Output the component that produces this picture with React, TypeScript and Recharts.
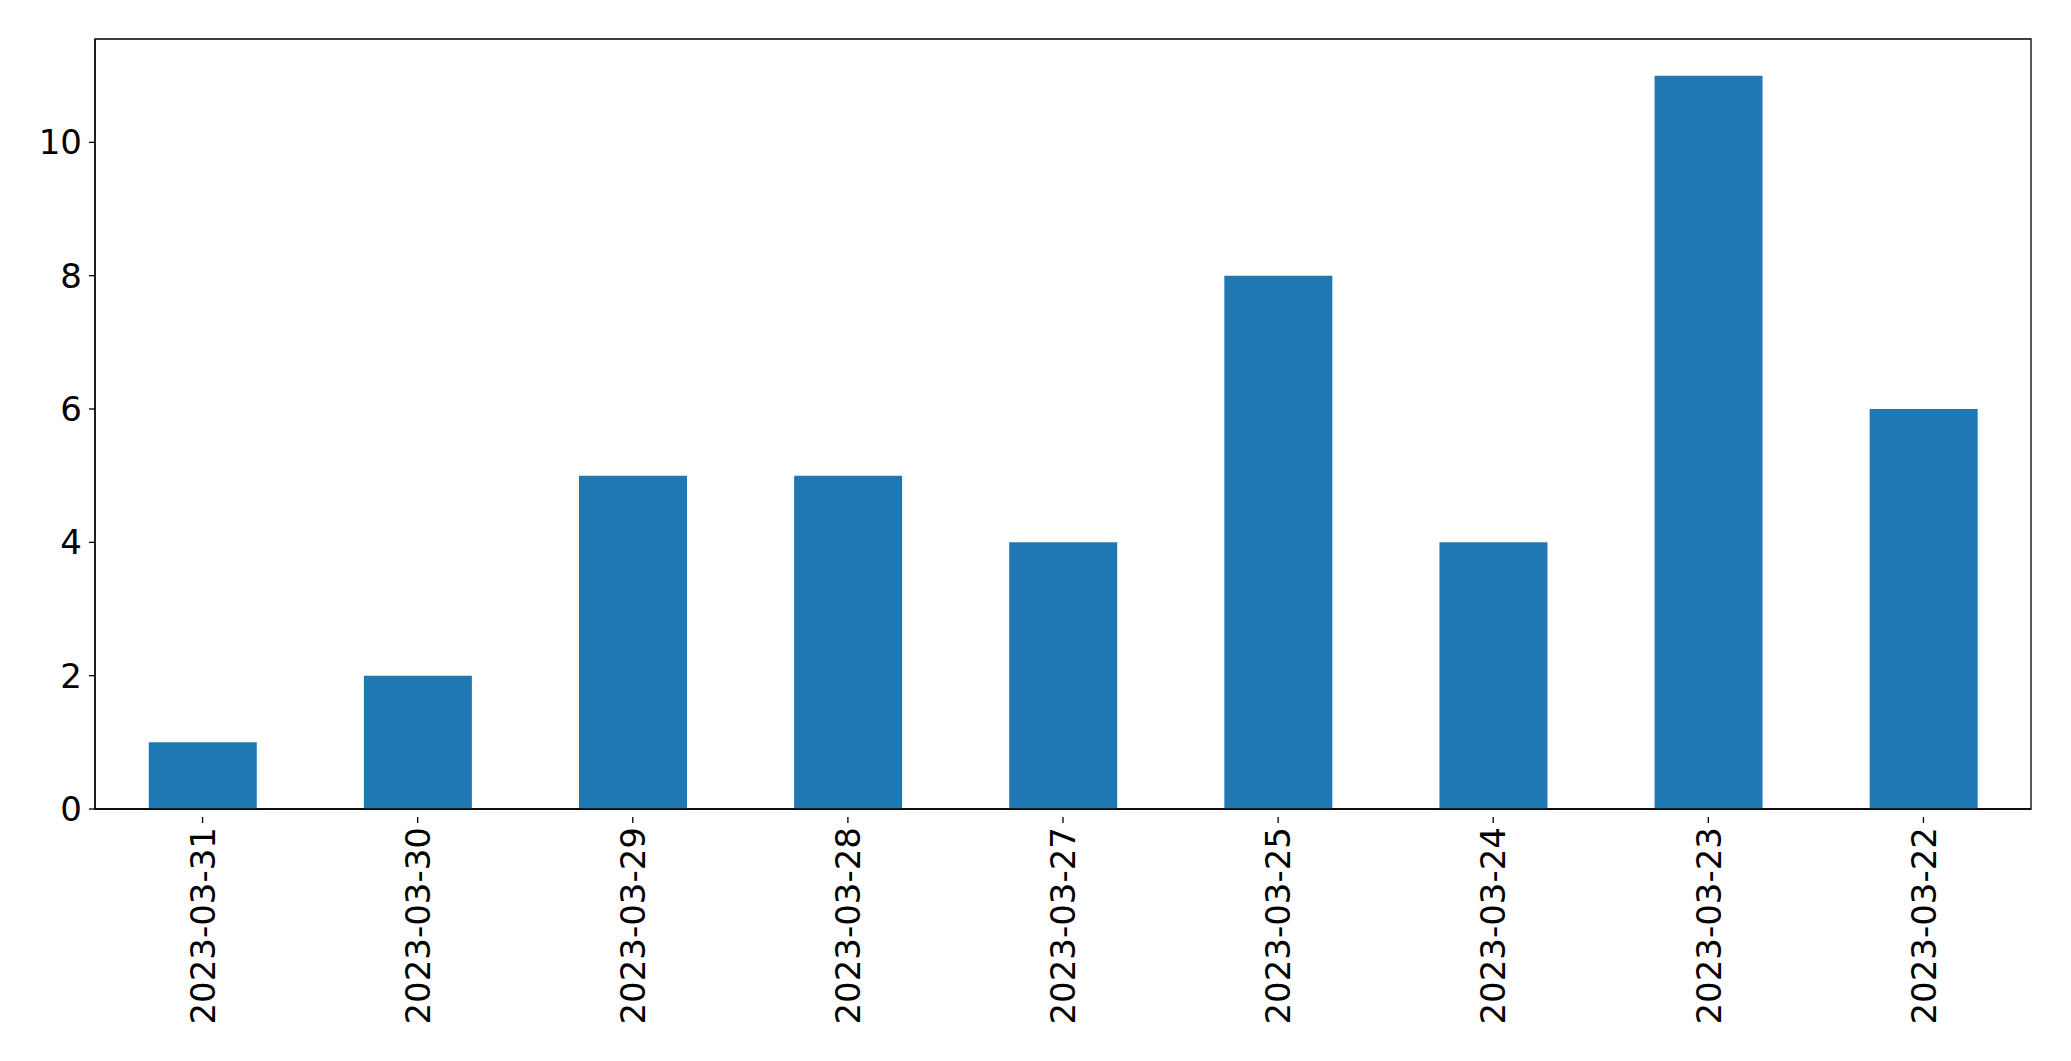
import React from "react";
import { BarChart, Bar, XAxis, YAxis, ReferenceArea } from "recharts";

const dates = [
  "2023-03-31",
  "2023-03-30",
  "2023-03-29",
  "2023-03-28",
  "2023-03-27",
  "2023-03-25",
  "2023-03-24",
  "2023-03-23",
  "2023-03-22",
];
const counts = [1, 2, 5, 5, 4, 8, 4, 11, 6];
const yTicks = [0, 2, 4, 6, 8, 10];
const yMax = 11.55;

const data = dates.map((d, i) => ({ date: d, count: counts[i] }));

const FONT = "'DejaVu Sans', sans-serif";
const FS = 34;

const XTick = (props: any) => {
  const { x, y, payload } = props;
  return (
    <g transform={`translate(${x},${y})`}>
      <line x1={0} y1={0} x2={0} y2={6} stroke="#000" strokeWidth={1.3} />
      <text
        transform="rotate(-90)"
        x={-10}
        y={0}
        dy="0.36em"
        textAnchor="end"
        fontSize={FS}
        fontFamily={FONT}
        fill="#000"
      >
        {payload.value}
      </text>
    </g>
  );
};

export default function App() {
  return (
    <div style={{ position: "absolute", left: 0, top: 0, width: 2071, height: 1061, background: "#fff" }}>
      <BarChart
        width={2071}
        height={1061}
        data={data}
        margin={{ top: 39, right: 40, bottom: 0, left: 0 }}
        barCategoryGap="25%"
      >
        <XAxis
          dataKey="date"
          interval={0}
          height={252}
          tick={<XTick />}
          tickLine={false}
          axisLine={{ stroke: "#000", strokeWidth: 1.3 }}
        />
        <YAxis
          width={95}
          domain={[0, yMax]}
          ticks={yTicks}
          allowDataOverflow
          tickSize={6}
          tickMargin={7}
          tick={{ fontSize: FS, fontFamily: FONT, fill: "#000" }}
          tickLine={{ stroke: "#000", strokeWidth: 1.3 }}
          axisLine={{ stroke: "#000", strokeWidth: 1.3 }}
        />
        <Bar dataKey="count" fill="#1f77b4" isAnimationActive={false} />
        <ReferenceArea
          x1={dates[0]}
          x2={dates[dates.length - 1]}
          y1={0}
          y2={yMax}
          fill="none"
          fillOpacity={0}
          stroke="#000"
          strokeWidth={1.3}
          strokeOpacity={1}
          ifOverflow="visible"
        />
      </BarChart>
    </div>
  );
}
